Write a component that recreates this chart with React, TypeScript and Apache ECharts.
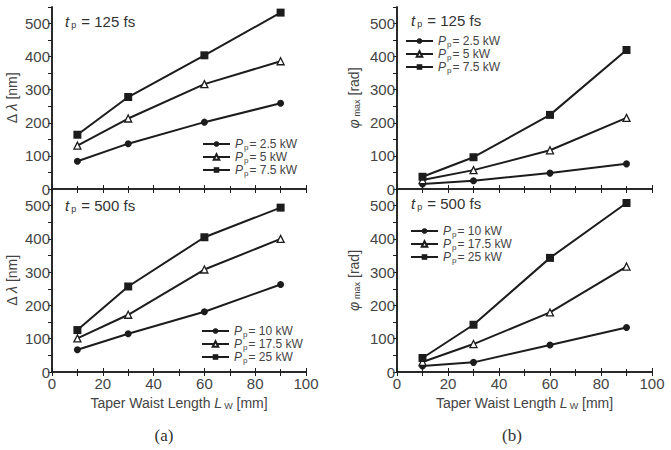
import React, { useEffect, useRef } from "react";
import * as echarts from "echarts";

// Taper waist lengths (mm)
const waistLengths = [10, 30, 60, 90];

// Spectral broadening Δλ (nm), tp = 125 fs
const dl125_p25 = [84, 137, 202, 259];
const dl125_p5 = [131, 213, 317, 386];
const dl125_p75 = [164, 278, 404, 533];
// Spectral broadening Δλ (nm), tp = 500 fs
const dl500_p10 = [67, 115, 181, 263];
const dl500_p175 = [101, 172, 308, 400];
const dl500_p25 = [126, 257, 405, 494];

// Max nonlinear phase φmax (rad), tp = 125 fs
const ph125_p25 = [15, 25, 48, 76];
const ph125_p5 = [27, 57, 117, 215];
const ph125_p75 = [37, 96, 224, 420];
// Max nonlinear phase φmax (rad), tp = 500 fs
const ph500_p10 = [18, 29, 81, 134];
const ph500_p175 = [30, 84, 179, 317];
const ph500_p25 = [42, 142, 343, 508];

const powers125 = ["2.5 kW", "5 kW", "7.5 kW"];
const powers500 = ["10 kW", "17.5 kW", "25 kW"];
const pulseLabels = ["125 fs", "500 fs"];
const markers = ["circle", "triangle", "rect"];
const markerSizes = [7, 7, 8];

const INK = "#1c1c1c";
const TXT = "#444";
const FONT = "Liberation Sans, Arial, sans-serif";

const grids = [
  { left: 52, top: 7, width: 254, height: 182 },
  { left: 52, top: 189, width: 254, height: 183 },
  { left: 397, top: 7, width: 255, height: 182 },
  { left: 397, top: 189, width: 255, height: 183 },
];

const panels = [
  { grid: 0, data: [dl125_p25, dl125_p5, dl125_p75], names: powers125 },
  { grid: 1, data: [dl500_p10, dl500_p175, dl500_p25], names: powers500 },
  { grid: 2, data: [ph125_p25, ph125_p5, ph125_p75], names: powers125 },
  { grid: 3, data: [ph500_p10, ph500_p175, ph500_p25], names: powers500 },
];

const subRich = {
  i: { fontStyle: "italic", fontSize: 12, color: TXT, fontFamily: FONT, lineHeight: 14 },
  s: { fontSize: 8, color: TXT, fontFamily: FONT, verticalAlign: "bottom", lineHeight: 10, padding: [0, 1, 0, 1] },
  t: { fontSize: 12, color: TXT, fontFamily: FONT, lineHeight: 14 },
};

export default function App() {
  const ref = useRef<HTMLDivElement>(null);

  useEffect(() => {
    if (!ref.current) return;
    const chart = echarts.init(ref.current, null, { renderer: "svg" });

    const xAxes: any[] = [];
    const yAxes: any[] = [];
    grids.forEach((_, g) => {
      const isBottom = g === 1 || g === 3;
      const isLeft = g < 2;
      xAxes.push({
        type: "value",
        gridIndex: g,
        min: 0,
        max: 100,
        interval: 20,
        axisLine: { show: true, lineStyle: { color: INK, width: 1.5 } },
        axisTick: { show: true, inside: true, length: 4, lineStyle: { color: INK } },
        minorTick: { show: true, splitNumber: 2, length: 3, lineStyle: { color: INK } },
        splitLine: { show: false },
        axisLabel: { show: isBottom, margin: 4, color: TXT, fontSize: 15, fontFamily: FONT },
        name: isBottom ? "{a|Taper Waist Length }{i|L}{s|W}{a| [mm]}" : "",
        nameLocation: "middle",
        nameGap: 23,
        nameTextStyle: {
          rich: {
            a: { fontSize: 14, color: TXT, fontFamily: FONT, lineHeight: 15 },
            i: { fontSize: 14, fontStyle: "italic", color: TXT, fontFamily: FONT, lineHeight: 15 },
            s: { fontSize: 9, color: TXT, fontFamily: FONT, verticalAlign: "bottom", lineHeight: 9, padding: [0, 0, 0, 2] },
          },
        },
      });
      xAxes.push({
        type: "value",
        gridIndex: g,
        position: "top",
        min: 0,
        max: 100,
        interval: 10,
        axisLine: { show: true, lineStyle: { color: INK, width: 1.5 } },
        axisTick: { show: true, inside: true, length: 4, lineStyle: { color: INK } },
        axisLabel: { show: false },
        splitLine: { show: false },
      });
      yAxes.push({
        type: "value",
        gridIndex: g,
        min: 0,
        max: 550,
        interval: 100,
        axisLine: { show: true, lineStyle: { color: INK, width: 1.5 } },
        axisTick: { show: true, inside: false, length: 4, lineStyle: { color: INK } },
        minorTick: { show: true, splitNumber: 2, length: 3, lineStyle: { color: INK } },
        splitLine: { show: false },
        axisLabel: { show: true, showMaxLabel: false, margin: 2, color: TXT, fontSize: 15, fontFamily: FONT },
        name: isLeft ? "{a|Δ }{i|λ}{a| [nm]}" : "{i|φ}{s|max}{a| [rad]}",
        nameLocation: "middle",
        nameGap: isLeft ? 33 : 36,
        nameTextStyle: {
          rich: {
            a: { fontSize: 14, color: TXT, fontFamily: FONT, lineHeight: 15 },
            i: { fontSize: 14, fontStyle: "italic", color: TXT, fontFamily: FONT, lineHeight: 15 },
            s: { fontSize: 9, color: TXT, fontFamily: FONT, verticalAlign: "bottom", lineHeight: 9, padding: [0, 0, 0, 3] },
          },
        },
      });
      yAxes.push({
        type: "value",
        gridIndex: g,
        position: "right",
        min: 0,
        max: 550,
        interval: 50,
        axisLine: { show: true, lineStyle: { color: INK, width: 1.5 } },
        axisTick: { show: true, inside: true, length: 4, lineStyle: { color: INK } },
        axisLabel: { show: false },
        splitLine: { show: false },
      });
    });

    const series: any[] = [];
    panels.forEach((p) => {
      p.data.forEach((vals, k) => {
        series.push({
          type: "line",
          name: p.names[k],
          xAxisIndex: p.grid * 2,
          yAxisIndex: p.grid * 2,
          data: waistLengths.map((x, i) => [x, vals[i]]),
          symbol: markers[k],
          symbolSize: markerSizes[k],
          showSymbol: true,
          lineStyle: { color: INK, width: 2 },
          itemStyle: {
            color: k === 1 ? "#ffffff" : INK,
            borderColor: INK,
            borderWidth: k === 1 ? 1.3 : 0,
          },
          z: 3,
        });
      });
    });

    const legendBase = {
      orient: "vertical",
      itemWidth: 27,
      itemHeight: 7,
      itemGap: 0,
      padding: 0,
      selectedMode: false,
      formatter: (n: string) => `{i|P}{s|p}{t|= ${n}}`,
      textStyle: { rich: subRich },
    };

    const legends = [
      { ...legendBase, left: 202, top: 138, data: powers125 },
      { ...legendBase, left: 405, top: 35, data: powers125 },
      { ...legendBase, left: 201, top: 325, data: powers500 },
      { ...legendBase, left: 410, top: 225, data: powers500 },
    ];

    const annRich = {
      i: { fontStyle: "italic", fontSize: 15, fill: "#333", fontFamily: FONT, lineHeight: 16 },
      s: { fontSize: 9, fill: "#333", fontFamily: FONT, verticalAlign: "bottom", lineHeight: 9, padding: [0, 1, 0, 2] },
      t: { fontSize: 15, fill: "#333", fontFamily: FONT, lineHeight: 16 },
    };
    const annPos = [
      [65, 21, 0],
      [65, 205, 1],
      [411, 20, 0],
      [411, 203, 1],
    ];
    const graphic: any[] = annPos.map(([x, y, k]) => ({
      type: "text",
      x,
      y,
      style: {
        text: `{i|t}{s|p}{t| = ${pulseLabels[k]}}`,
        rich: annRich,
        verticalAlign: "middle",
      },
    }));
    graphic.push(
      {
        type: "text",
        x: 164,
        y: 435,
        style: { text: "(a)", font: "17px 'Liberation Serif', serif", fill: "#333", align: "center", verticalAlign: "middle" },
      },
      {
        type: "text",
        x: 512,
        y: 435,
        style: { text: "(b)", font: "17px 'Liberation Serif', serif", fill: "#333", align: "center", verticalAlign: "middle" },
      }
    );

    chart.setOption({
      animation: false,
      backgroundColor: "#ffffff",
      grid: grids,
      xAxis: xAxes,
      yAxis: yAxes,
      series,
      legend: legends,
      graphic,
    });

    return () => chart.dispose();
  }, []);

  return (
    <div
      ref={ref}
      style={{ position: "fixed", left: 0, top: 0, width: 671, height: 450 }}
    />
  );
}
